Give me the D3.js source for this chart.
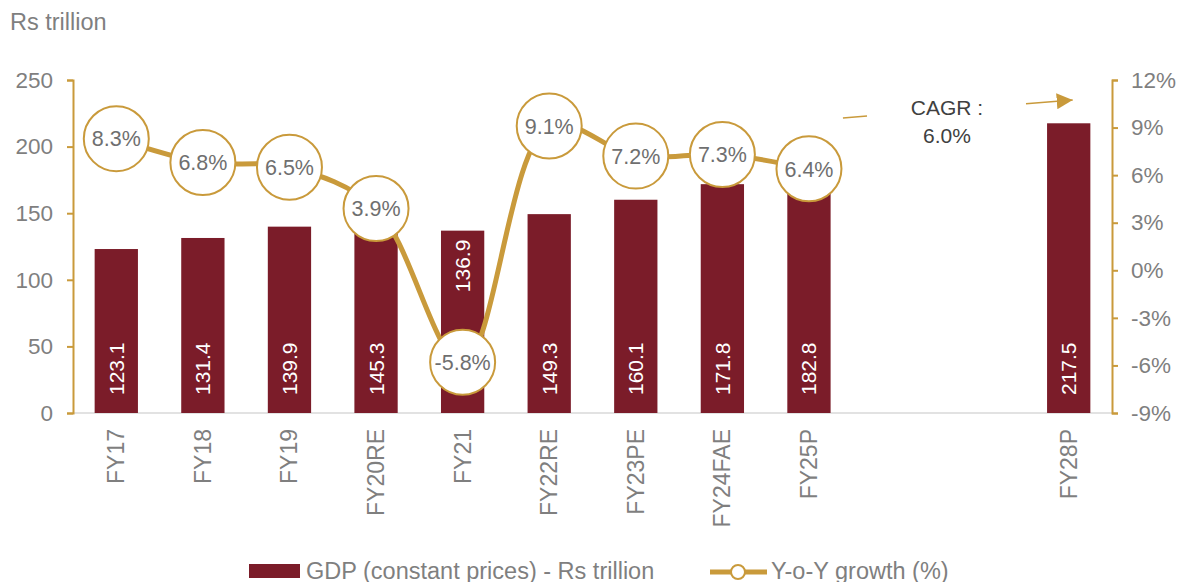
<!DOCTYPE html>
<html>
<head>
<meta charset="utf-8">
<script src="https://cdn.jsdelivr.net/npm/d3@7"></script>
<style>
  body { margin: 0; background: #fff; }
  svg { display: block; font-family: "Liberation Sans", Arial, sans-serif; }
</style>
</head>
<body>
<div class="layout"></div>
<script>
// data
var categories = ["FY17", "FY18", "FY19", "FY20RE", "FY21", "FY22RE", "FY23PE", "FY24FAE", "FY25P", "", "", "FY28P"];
var gdp = [123.1, 131.4, 139.9, 145.3, 136.9, 149.3, 160.1, 171.8, 182.8, null, null, 217.5];
var growth = [8.3, 6.8, 6.5, 3.9, -5.8, 9.1, 7.2, 7.3, 6.4];
var leftTicks = [0, 50, 100, 150, 200, 250];
var rightTicks = [-9, -6, -3, 0, 3, 6, 9, 12];
var cagrText = ["CAGR :", "6.0%"];

var W = 1181, H = 582;
var plotLeft = 73, plotRight = 1112, plotTop = 80, plotBottom = 413;
var maroon = "#7b1c29", gold = "#c99a3b", grey = "#7f7f7f";

var svg = d3.select(".layout").append("svg")
        .attr("width", W)
        .attr("height", H);

var x = d3.scaleBand()
        .domain(d3.range(categories.length))
        .range([plotLeft, plotRight])
        .paddingInner(0.5)
        .paddingOuter(0.25);

var y = d3.scaleLinear().domain([0, 250]).range([plotBottom, plotTop]);
var yPct = d3.scaleLinear().domain([-9, 12]).range([plotBottom, plotTop]);

// unit label
svg.append("text")
        .attr("x", 10)
        .attr("y", 30)
        .attr("fill", grey)
        .style("font-size", "23.5px")
        .text("Rs trillion");

// baseline
svg.append("line")
        .attr("x1", plotLeft).attr("x2", plotRight)
        .attr("y1", plotBottom).attr("y2", plotBottom)
        .attr("stroke", "#d9d9d9")
        .attr("stroke-width", 1.5);

// axes
var yAxis = d3.axisLeft(y).tickValues(leftTicks).tickSize(6).tickPadding(14);
var yRightAxis = d3.axisRight(yPct).tickValues(rightTicks).tickSize(6).tickPadding(13)
        .tickFormat(function(d) { return d + "%"; });

function styleAxis(g) {
        g.attr("font-family", null).attr("font-size", null);
        g.select(".domain").attr("stroke", gold).attr("stroke-width", 2);
        g.selectAll(".tick line").attr("stroke", gold).attr("stroke-width", 2);
        g.selectAll(".tick text").attr("fill", grey).style("font-size", "22.5px");
}

svg.append("g")
        .attr("class", "y axis")
        .attr("transform", "translate(" + plotLeft + ",0)")
        .call(yAxis)
        .call(styleAxis);

svg.append("g")
        .attr("class", "y axis")
        .attr("transform", "translate(" + plotRight + ",0)")
        .call(yRightAxis)
        .call(styleAxis);

// category labels
svg.append("g")
        .selectAll("text")
        .data(categories)
        .enter().append("text")
        .attr("transform", function(d, i) {
                return "translate(" + (x(i) + x.bandwidth() / 2 + 8) + "," + (plotBottom + 16) + ") rotate(-90)";
        })
        .attr("text-anchor", "end")
        .attr("fill", grey)
        .style("font-size", "23px")
        .text(function(d) { return d; });

// bars
var barData = gdp.map(function(v, i) { return { i: i, v: v }; })
        .filter(function(d) { return d.v !== null; });

svg.append("g")
        .selectAll("rect")
        .data(barData)
        .enter().append("rect")
        .attr("x", function(d) { return x(d.i); })
        .attr("width", x.bandwidth())
        .attr("y", function(d) { return y(d.v); })
        .attr("height", function(d) { return y(0) - y(d.v); })
        .attr("fill", maroon);

// bar labels (FY21 sits at the top, the circle covers its base)
svg.append("g")
        .selectAll("text")
        .data(barData)
        .enter().append("text")
        .attr("transform", function(d) {
                var cx = x(d.i) + x.bandwidth() / 2 + 7.5;
                var atTop = categories[d.i] === "FY21";
                var yy = atTop ? y(d.v) + 9 : y(0) - 18;
                return "translate(" + cx + "," + yy + ") rotate(-90)";
        })
        .attr("text-anchor", function(d) { return categories[d.i] === "FY21" ? "end" : "start"; })
        .attr("fill", "#fff")
        .style("font-size", "21px")
        .text(function(d) { return d.v.toFixed(1); });

// growth line
var line = d3.line()
        .x(function(d, i) { return x(i) + x.bandwidth() / 2; })
        .y(function(d) { return yPct(d); })
        .curve(d3.curveCatmullRom.alpha(0.5));

svg.append("path")
        .datum(growth)
        .attr("d", line)
        .attr("fill", "none")
        .attr("stroke", gold)
        .attr("stroke-width", 5);

var dots = svg.append("g")
        .selectAll("g")
        .data(growth)
        .enter().append("g")
        .attr("transform", function(d, i) {
                return "translate(" + (x(i) + x.bandwidth() / 2) + "," + yPct(d) + ")";
        });

dots.append("circle")
        .attr("r", 32.5)
        .attr("fill", "#fff")
        .attr("stroke", gold)
        .attr("stroke-width", 2);

dots.append("text")
        .attr("text-anchor", "middle")
        .attr("dy", "0.36em")
        .attr("fill", "#6f6f6f")
        .style("font-size", "21.5px")
        .text(function(d) { return d.toFixed(1) + "%"; });

// CAGR annotation
var i25 = categories.indexOf("FY25P"), i28 = categories.indexOf("FY28P");
var ax1 = x(i25) + x.bandwidth() / 2 + 34, ay1 = 118;
var ax2 = x(i28) + x.bandwidth() / 2 + 4, ay2 = 100;
var along = function(t) { return [ax1 + (ax2 - ax1) * t, ay1 + (ay2 - ay1) * t]; };
var gapA = (867 - ax1) / (ax2 - ax1), gapB = (1026 - ax1) / (ax2 - ax1);

svg.append("defs").append("marker")
        .attr("id", "arrow")
        .attr("viewBox", "0 0 10 10")
        .attr("refX", 10).attr("refY", 5)
        .attr("markerWidth", 16).attr("markerHeight", 16)
        .attr("markerUnits", "userSpaceOnUse")
        .attr("orient", "auto")
        .append("path")
        .attr("d", "M0,0 L10,5 L0,10 Z")
        .attr("fill", gold);

var p0 = along(0), p1 = along(gapA), p2 = along(gapB), p3 = along(1);
svg.append("line")
        .attr("x1", p0[0]).attr("y1", p0[1]).attr("x2", p1[0]).attr("y2", p1[1])
        .attr("stroke", gold).attr("stroke-width", 1.5);
svg.append("line")
        .attr("x1", p2[0]).attr("y1", p2[1]).attr("x2", p3[0]).attr("y2", p3[1])
        .attr("stroke", gold).attr("stroke-width", 1.5)
        .attr("marker-end", "url(#arrow)");

svg.append("g")
        .selectAll("text")
        .data(cagrText)
        .enter().append("text")
        .attr("x", 947)
        .attr("y", function(d, i) { return 115 + i * 28; })
        .attr("text-anchor", "middle")
        .attr("fill", "#404040")
        .style("font-size", "21px")
        .text(function(d) { return d; });

// legend
var legend = svg.append("g");
legend.append("rect")
        .attr("x", 249).attr("y", 564)
        .attr("width", 51).attr("height", 14)
        .attr("fill", maroon);
legend.append("text")
        .attr("x", 306).attr("y", 579)
        .attr("fill", grey)
        .style("font-size", "23.5px")
        .text("GDP (constant prices) - Rs trillion");
legend.append("line")
        .attr("x1", 710).attr("x2", 767)
        .attr("y1", 572).attr("y2", 572)
        .attr("stroke", gold).attr("stroke-width", 5);
legend.append("circle")
        .attr("cx", 738).attr("cy", 572).attr("r", 7)
        .attr("fill", "#fff").attr("stroke", gold).attr("stroke-width", 2);
legend.append("text")
        .attr("x", 771).attr("y", 579)
        .attr("fill", grey)
        .style("font-size", "23.5px")
        .text("Y-o-Y growth (%)");
</script>
</body>
</html>
